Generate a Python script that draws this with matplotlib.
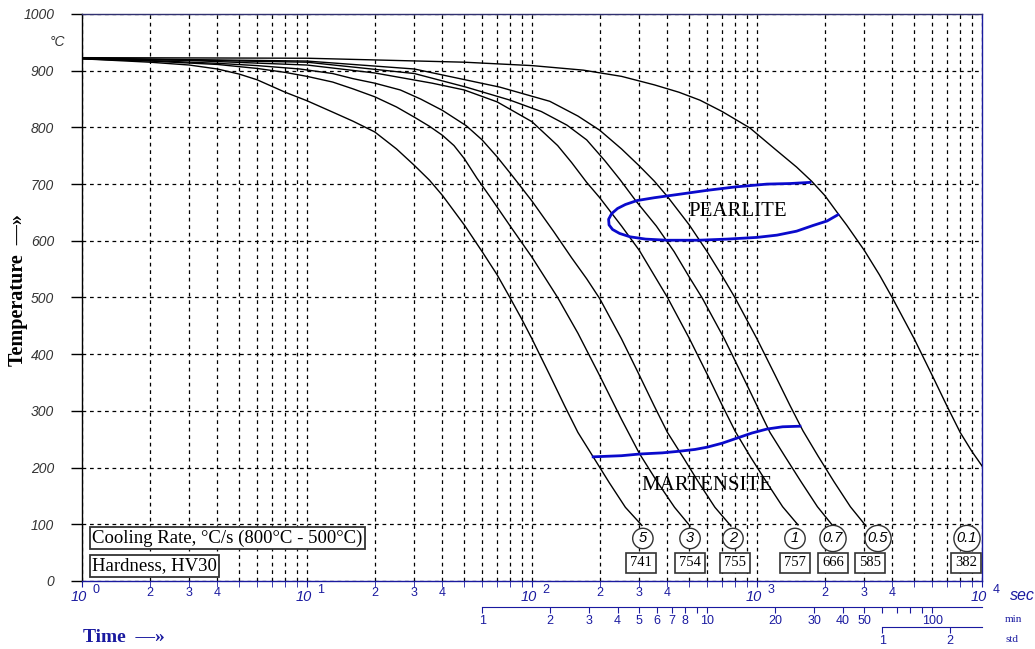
import matplotlib.pyplot as plt
from matplotlib.ticker import LogLocator, NullLocator, NullFormatter
from matplotlib.transforms import blended_transform_factory

# cooling curves: time [s], temperature [°C]
t_r5 = [1, 2, 3, 4, 5, 6, 8, 10, 13, 16, 20, 25, 30, 35, 40, 50, 60, 70, 80, 90, 100,
        120, 140, 160, 187, 220, 260, 308]
T_r5 = [921, 915, 910, 903, 894, 884, 862, 847, 827, 811, 792, 762, 733, 707, 680, 628,
        581, 540, 499, 462, 427, 363, 308, 262, 219, 174, 130, 98]
t_r3 = [1, 2, 4, 6, 8, 10, 13, 16, 20, 25, 30, 35, 40, 45, 50, 57, 65, 80, 100, 130,
        160, 200, 250, 300, 360, 430, 504]
T_r3 = [921, 917, 911, 904, 897, 890, 880, 868, 854, 836, 818, 802, 786, 768, 745, 710,
        678, 626, 571, 500, 437, 362, 285, 225, 175, 130, 97]
t_r2 = [1, 2, 4, 6, 9.3, 13, 16, 20, 26, 32, 40, 51, 60, 70, 82, 100, 125, 150, 175,
        200, 250, 300, 350, 400, 470, 550, 650, 766]
T_r2 = [921, 918, 913, 909, 903, 895, 886, 878, 866, 850, 830, 803, 778, 748, 714, 670,
        616, 570, 533, 498, 427, 363, 308, 262, 218, 174, 130, 97]
t_r1 = [1, 3, 10, 20, 36, 50, 70, 100, 130, 150, 175, 200, 250, 300, 400, 500, 600,
        700, 800, 935, 1100, 1300, 1521]
T_r1 = [922, 918, 910, 896, 878, 866, 845, 810, 768, 738, 703, 676, 626, 583, 500, 428,
        365, 310, 264, 219, 175, 131, 99]
t_r07 = [1, 10, 30, 51, 80, 110, 143, 175, 210, 246, 290, 357, 428, 500, 571, 714, 857,
         1000, 1142, 1335, 1570, 1856, 2177]
T_r07 = [922, 915, 895, 871, 848, 828, 804, 778, 742, 708, 670, 626, 581, 536, 499, 428,
         364, 309, 262, 219, 175, 131, 97]
t_r05 = [1, 10, 30, 72, 120, 160, 200, 250, 300, 350, 400, 500, 600, 700, 800, 1000,
         1200, 1400, 1600, 1870, 2200, 2600, 3050]
T_r05 = [922, 917, 903, 871, 846, 820, 795, 762, 732, 705, 678, 628, 581, 538, 499, 427,
         364, 310, 265, 220, 175, 131, 97]
t_r01 = [1, 10, 50, 100, 169, 250, 350, 450, 558, 700, 930, 1200, 1500, 1750, 2000,
         2291, 2500, 3000, 3500, 4000, 5000, 6000, 7000, 8000, 9000, 10000]
T_r01 = [923, 922, 915, 909, 901, 890, 875, 862, 848, 828, 799, 762, 730, 705, 680, 648,
         628, 583, 540, 499, 427, 363, 308, 262, 229, 203]

# phase boundaries
t_pearl = [1721, 1400, 1107, 800, 600, 450, 350, 293, 260, 240, 226, 219, 220, 228, 245,
           273, 320, 398, 550, 736, 1000, 1227, 1500, 1774, 2050, 2291]
T_pearl = [703, 701, 700, 695, 689, 682, 676, 671, 664, 657, 648, 638, 628, 620, 613,
           607, 603, 601, 601, 603, 606, 610, 617, 627, 635, 646]
t_mart = [187, 250, 302, 380, 455, 530, 600, 700, 815, 950, 1107, 1300, 1552]
T_mart = [219, 221, 224, 226, 229, 232, 236, 243, 252, 261, 268, 272, 273]

# end labels
rates = ['5', '3', '2', '1', '0.7', '0.5', '0.1']
hardness = ['741', '754', '755', '757', '666', '585', '382']
rate_t = [311, 504, 782, 1475, 2177, 3451, 8577]
hard_t = [305, 504, 798, 1475, 2177, 3177, 8492]

min_ticks = [1, 2, 3, 4, 5, 6, 7, 8, 9, 10, 20, 30, 40, 50, 60, 70, 80, 90, 100]
min_labels = ['1', '2', '3', '4', '5', '6', '7', '8', '', '10', '20', '30', '40', '50',
              '', '', '', '', '100']
std_ticks = [1, 2]

blue = '#1a1aa0'
serif = 'Liberation Serif'
sans = 'Liberation Sans'

fig = plt.figure(figsize=(10.35, 6.49), dpi=100)
ax = fig.add_axes([82 / 1035, 68 / 649, 900 / 1035, 567 / 649])
ax.set_xscale('log')
ax.set_xlim(1, 1e4)
ax.set_ylim(0, 1000)

curves = [(t_r5, T_r5), (t_r3, T_r3), (t_r2, T_r2), (t_r1, T_r1),
          (t_r07, T_r07), (t_r05, T_r05), (t_r01, T_r01)]
for tt, TT in curves:
    ax.plot(tt, TT, color='black', lw=1.0, zorder=3)

ax.plot(t_pearl, T_pearl, color='#0a0acc', lw=2.0, zorder=4)
ax.plot(t_mart, T_mart, color='#0a0acc', lw=2.0, zorder=4)

ax.text(819, 651, 'PEARLITE', family=serif, fontsize=15, ha='center', va='center', zorder=5)
ax.text(600, 169, 'MARTENSITE', family=serif, fontsize=15, ha='center', va='center', zorder=5)

for x, r in zip(rate_t, rates):
    ax.text(x, 75, r, family=sans, style='italic', fontsize=10.5, ha='center', va='center',
            bbox=dict(boxstyle='circle,pad=0.22' if len(r) == 1 else 'circle,pad=0.2',
                      fc='white', ec='#333333', lw=1.0), zorder=6)
for x, h in zip(hard_t, hardness):
    ax.text(x, 32, h, family=serif, fontsize=10.5, ha='center', va='center',
            bbox=dict(boxstyle='square,pad=0.25', fc='white', ec='#333333', lw=1.2), zorder=6)

ax.text(0.011, 0.076, 'Cooling Rate, °C/s (800°C - 500°C)', transform=ax.transAxes,
        family=serif, fontsize=13.5, ha='left', va='center',
        bbox=dict(boxstyle='square,pad=0.12', fc='white', ec='#333333', lw=1.3), zorder=6)
ax.text(0.011, 0.0265, 'Hardness, HV30', transform=ax.transAxes,
        family=serif, fontsize=13.5, ha='left', va='center',
        bbox=dict(boxstyle='square,pad=0.12', fc='white', ec='#333333', lw=1.3), zorder=6)

# grid
ax.xaxis.set_minor_locator(LogLocator(base=10, subs=range(2, 10)))
ax.xaxis.set_minor_formatter(NullFormatter())
ax.set_yticks(range(0, 1001, 100))
ax.grid(which='both', axis='x', color='black', ls=(0, (3, 3)), lw=0.9)
ax.grid(which='major', axis='y', color='black', ls=(0, (3, 3)), lw=0.9)
ax.set_axisbelow(True)

# spines
ax.spines['left'].set_color('black')
ax.spines['bottom'].set_color(blue)
ax.spines['top'].set_color('#303070')
ax.spines['right'].set_color(blue)
for s in ax.spines.values():
    s.set_linewidth(1.0)

ax.tick_params(axis='y', direction='out', length=8, width=1, color='black', pad=12,
               labelsize=10)
for lab in ax.get_yticklabels():
    lab.set_family(sans)
    lab.set_style('italic')
    lab.set_color('#333333')
ax.tick_params(axis='x', which='both', direction='out', length=4, color=blue,
               labelbottom=False)

trans = blended_transform_factory(ax.transData, ax.transAxes)
for k in range(5):
    ax.annotate('10', xy=(10 ** k, 0), xycoords=trans, xytext=(-3, -16),
                textcoords='offset pixels', ha='center', va='center', color=blue,
                family=sans, style='italic', fontsize=10.5)
    ax.annotate(str(k), xy=(10 ** k, 0), xycoords=trans, xytext=(14, -9),
                textcoords='offset pixels', ha='center', va='center', color=blue,
                family=sans, fontsize=9)
    if k < 4:
        for m in (2, 3, 4):
            ax.annotate(str(m), xy=(m * 10 ** k, 0), xycoords=trans, xytext=(0, -12),
                        textcoords='offset pixels', ha='center', va='center', color=blue,
                        family=sans, fontsize=9)
ax.annotate('sec', xy=(1e4, 0), xycoords=trans, xytext=(40, -15),
            textcoords='offset pixels', ha='center', va='center', color=blue,
            family=sans, style='italic', fontsize=11.5)
ax.annotate('°C', xy=(0, 950), xycoords=blended_transform_factory(ax.transAxes, ax.transData),
            xytext=(-25, 0), textcoords='offset pixels', ha='center', va='center',
            color='#333333', family=sans, style='italic', fontsize=10)

# minutes axis
sec_min = ax.secondary_xaxis(-26 / 567, functions=(lambda t: t / 60, lambda m: m * 60))
sec_min.set_xticks(min_ticks)
sec_min.set_xticklabels(min_labels)
sec_min.xaxis.set_minor_locator(NullLocator())
sec_min.spines['bottom'].set_bounds(1, 1e4 / 60)
sec_min.spines['bottom'].set_color(blue)
sec_min.tick_params(direction='out', length=4, color=blue, labelcolor=blue, labelsize=9,
                    pad=2)
for lab in sec_min.get_xticklabels():
    lab.set_family(sans)

# hours axis
sec_std = ax.secondary_xaxis(-46 / 567, functions=(lambda t: t / 3600, lambda h: h * 3600))
sec_std.set_xticks(std_ticks)
sec_std.set_xticklabels([str(v) for v in std_ticks])
sec_std.xaxis.set_minor_locator(NullLocator())
sec_std.spines['bottom'].set_bounds(1, 1e4 / 3600)
sec_std.spines['bottom'].set_color(blue)
sec_std.tick_params(direction='out', length=4, color=blue, labelcolor=blue, labelsize=9,
                    pad=2)
for lab in sec_std.get_xticklabels():
    lab.set_family(sans)

fig.text(1005 / 1035, 1 - 619 / 649, 'min', family=serif, fontsize=8, color=blue,
         ha='left', va='center')
fig.text(1005 / 1035, 1 - 640 / 649, 'std', family=serif, fontsize=8, color=blue,
         ha='left', va='center')

fig.text(18 / 1035, 1 - 290 / 649, 'Temperature  —»', family=serif, fontweight='bold',
         fontsize=14.5, rotation=90, ha='center', va='center', color='black')
fig.text(83 / 1035, 1 - 638 / 649, 'Time  —»', family=serif, fontweight='bold',
         fontsize=14, ha='left', va='center', color=blue)

fig.savefig('out.png', dpi=100)
